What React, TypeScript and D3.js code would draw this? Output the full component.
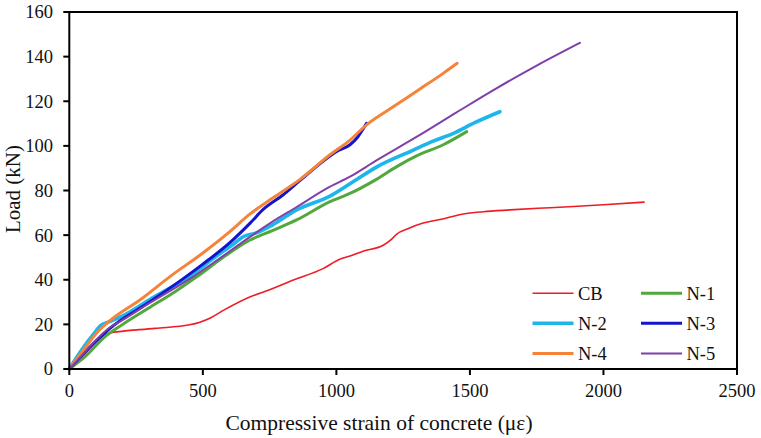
import React from "react";
import * as d3 from "d3";

type P = [number, number];

const cb: P[] = [[0,0],[60,7],[110,13.5],[146,16],[321,18.2],[450,19.8],[489,21],[530,23],[580,26.5],[678,32.4],[750,35.5],[839,39.9],[950,45],[1013,49.2],[1051,50.6],[1100,52.8],[1177,55.6],[1205,58],[1226,60.5],[1270,63],[1325,65.4],[1388,67],[1475,69.5],[1550,70.5],[1650,71.3],[1800,72.3],[2000,73.6],[2152,74.8]];
const n1: P[] = [[0,0],[59,5.5],[134,14.5],[200,20],[296,27.2],[400,35],[477,41.3],[570,49.5],[677,57.8],[760,62],[851,66.8],[976,75],[1051,78.7],[1150,85],[1226,90.7],[1300,95.5],[1400,100.5],[1488,106.4]];
const n2: P[] = [[0,0],[46,8.5],[90,15.5],[118,19.5],[150,21.2],[200,23.8],[300,31],[452,41.8],[550,50.5],[620,56.5],[651,59.3],[700,61],[760,64.5],[851,71.3],[976,77.5],[1051,83],[1150,90.5],[1288,98.1],[1360,102],[1438,105.6],[1520,110.5],[1612,115.3]];
const n3: P[] = [[0,0],[50,6.5],[100,12.5],[150,18],[300,30],[415,39.5],[500,47],[600,56.5],[678,65.5],[726,71.5],[800,78],[864,84.5],[976,95.5],[1001,97.5],[1051,100.5],[1080,104],[1113,110.1]];
const n4: P[] = [[0,0],[50,8],[109,17],[150,21.5],[271,31.5],[378,41.5],[500,52],[600,61.5],[677,69.5],[760,76.5],[864,85],[976,96],[1050,102.5],[1113,109.4],[1200,116.5],[1313,125.5],[1400,132.5],[1452,137]];
const n5: P[] = [[0,0],[50,6.5],[100,13],[150,18.5],[200,22],[300,29.5],[452,40.5],[550,48.5],[650,57],[751,65.3],[850,72.5],[976,81.7],[1051,86.2],[1150,93.5],[1300,104],[1450,115],[1588,125],[1750,136],[1912,146.2]];

const seriesNames = ["CB", "N-1", "N-2", "N-3", "N-4", "N-5"];
const seriesData = [cb, n1, n2, n3, n4, n5];
const seriesColors = ["#EE1C24", "#52A83C", "#1CB6EA", "#1414CC", "#F5843A", "#8040A8"];
const seriesWidths = [1.6, 3, 3.6, 3, 3, 2];

const xTicks = [0, 500, 1000, 1500, 2000, 2500];
const yTicks = [0, 20, 40, 60, 80, 100, 120, 140, 160];

export default function App() {
  const W = 761, H = 438;
  const left = 69.3, right = 737, top = 12, bottom = 369;
  const x = d3.scaleLinear().domain([0, 2500]).range([left, right]);
  const y = d3.scaleLinear().domain([0, 160]).range([bottom, top]);
  const line = d3.line<P>().x(d => x(d[0])).y(d => y(d[1])).curve(d3.curveMonotoneX);
  const ff = "\"Liberation Serif\", \"Times New Roman\", serif";

  const legCols = [532.5, 641];
  const legRows = [293.3, 323.3, 353.5];

  return (
    <svg width={W} height={H} style={{ position: "absolute", left: 0, top: 0, background: "#fff" }}>
      <rect x={0} y={0} width={W} height={H} fill="#fff" />
      {seriesData.map((d, i) => (
        <path key={i} d={line(d) || ""} fill="none" stroke={seriesColors[i]} strokeWidth={seriesWidths[i]} strokeLinejoin="round" strokeLinecap="round" />
      ))}
      <rect x={left} y={top} width={right - left} height={bottom - top} fill="none" stroke="#000" strokeWidth={2} />
      <g fontFamily={ff} fill="#111">
        {yTicks.map(t => (
          <g key={"y" + t}>
            <line x1={left - 6} x2={left} y1={y(t)} y2={y(t)} stroke="#000" strokeWidth={2} />
            <text x={53} y={y(t)} dy="0.35em" textAnchor="end" fontSize={18.5}>{t}</text>
          </g>
        ))}
        {xTicks.map(t => (
          <g key={"x" + t}>
            <line x1={x(t)} x2={x(t)} y1={bottom} y2={bottom + 6} stroke="#000" strokeWidth={2} />
            <text x={x(t)} y={397} textAnchor="middle" fontSize={18.5}>{t}</text>
          </g>
        ))}
        <text x={379} y={430} textAnchor="middle" fontSize={21.5}>Compressive strain of concrete (με)</text>
        <text transform="translate(19.5,189) rotate(-90)" textAnchor="middle" fontSize={21}>Load (kN)</text>
        {seriesNames.map((n, i) => {
          const cx = legCols[i % 2];
          const cy = legRows[Math.floor(i / 2)];
          return (
            <g key={n}>
              <line x1={cx} x2={cx + 41} y1={cy} y2={cy} stroke={seriesColors[i]} strokeWidth={seriesWidths[i]} />
              <text x={cx + 45.5} y={cy} dy="0.35em" fontSize={18.5}>{n}</text>
            </g>
          );
        })}
      </g>
    </svg>
  );
}
